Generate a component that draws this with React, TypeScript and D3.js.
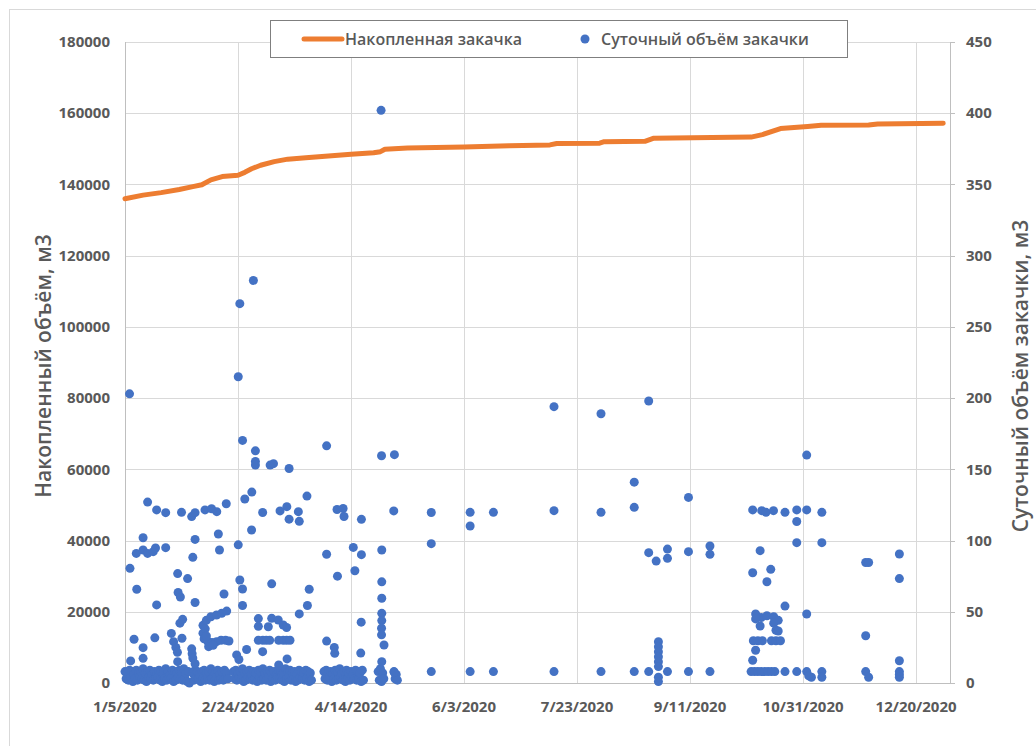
import React from "react";
import * as d3 from "d3";

// ---------- DATA ----------
const startDate = "2020-01-05";
const endDate = "2021-01-04";
const xTickLabels = ["2020-01-05", "2020-02-24", "2020-04-14", "2020-06-03", "2020-07-23", "2020-09-11", "2020-10-31", "2020-12-20"];
const leftTicks = [0, 20000, 40000, 60000, 80000, 100000, 120000, 140000, 160000, 180000];
const rightTicks = [0, 50, 100, 150, 200, 250, 300, 350, 400, 450];

const seriesNames = ["Накопленная закачка", "Суточный объём закачки"];
const leftTitle = "Накопленный объём, м3";
const rightTitle = "Суточный объём закачки, м3";

// cumulative injection: [days since start, m3]
const cumulative: [number, number][] = [
  [0, 136000], [8, 137000], [16, 137700], [24, 138600], [30, 139400], [34, 139900], [38, 141300],
  [43, 142200], [50, 142600], [53, 143400], [56, 144400], [60, 145400], [66, 146400], [72, 147100],
  [80, 147500], [90, 148000], [100, 148500], [110, 148900], [113, 149200], [115, 149900], [125, 150200],
  [150, 150500], [170, 150900], [188, 151100], [191, 151500], [210, 151600], [212, 152000], [230, 152100],
  [234, 153000], [277, 153300], [282, 154000], [290, 155700], [296, 156000], [302, 156300], [308, 156600],
  [329, 156700], [333, 157000], [362, 157200],
];

// daily injection points: [days since start, m3/day]
const dailyPoints: [number, number][] = [
  [2, 203], [10, 127], [14, 121.5], [18, 119.6], [25, 119.8], [29.5, 116.8], [31, 119.6],
  [8, 102], [5, 91], [8, 93.4], [10, 91], [12.5, 92.2], [13.5, 94.8], [18, 95],
  [2.2, 80.5], [5.2, 65.8], [14, 54.8], [23.3, 76.8], [23.5, 63.5], [24.5, 60.4], [27.7, 73.3],
  [31, 100.8], [30, 88.2], [31, 56.5], [4, 30.7], [8, 24.8], [13.2, 31.7], [2.5, 15.5], [8, 17.3],
  [20.5, 34.8], [21.5, 29], [22.5, 25], [23.2, 21.5], [25.2, 31.4], [24.3, 42], [25.5, 44.7], [23.3, 15],
  [29.5, 24], [29.7, 20.5], [30, 17.5], [31, 13.5],
  [34.5, 40.5], [36, 44], [38, 46.5], [40.5, 47.7], [42.8, 49], [45, 50.5], [34.5, 35], [35, 31],
  [36.5, 29.5], [38.5, 28.5], [40.5, 29], [42.5, 30], [44.5, 30], [46, 29.5], [37, 25.5], [39, 26.5],
  [35.5, 38], [36, 33], [43.8, 62.5],
  [35.4, 121.5], [38.3, 122.3], [40.6, 120.3], [44.8, 125.8], [41.3, 104.6], [41.8, 93.4],
  [50.1, 215], [50.8, 266.3], [56.8, 282.6], [52, 170.3], [57.7, 163], [57.7, 155.5], [57.7, 153],
  [64.2, 153], [65.7, 154], [72.6, 150.6],
  [53, 129.2], [56.1, 134], [60.9, 119.7], [68.6, 120.8], [71.6, 123.8], [72.6, 115], [76.7, 120.3],
  [77.1, 113.5], [80.5, 131.2], [56, 107.4], [50.1, 97], [50.8, 72.3], [52, 66], [52, 54.4], [64.9, 69.6],
  [59, 45.2], [59, 39.8], [63.4, 39.5], [64.9, 45.4], [67.8, 44.2], [70, 40.7], [71.5, 39],
  [59, 30], [61, 30], [62.5, 30], [64, 30], [68, 30], [70, 30], [71.5, 30], [73, 30],
  [60.9, 22], [71.7, 16.9], [49.4, 19.7], [50.4, 16.5], [53.8, 23.5], [68, 12.6],
  [81.5, 65.8], [80.7, 54.4], [77.1, 48.5],
  [89.2, 166.5], [93.8, 121.8], [96.5, 122.5], [96.9, 116.9], [104.6, 114.9], [118.9, 120.8], [113.5, 159.5], [119.2, 160.3],
  [89.2, 90.4], [94, 75], [101, 95.2], [104.6, 90.1], [101.7, 78.8],
  [89.2, 29.4], [92.6, 25], [92.8, 20.8], [104.5, 42.7], [104.3, 21],
  [113.6, 93.4], [113.6, 71], [113.6, 59.5], [113.6, 48.9], [113.6, 43.8], [113.5, 38.4], [113.5, 33.8],
  [114.6, 26.7], [113.6, 15], [119.1, 7.5], [113.3, 402],
  [135.5, 119.7], [135.5, 97.8], [135.5, 8],
  [152.7, 119.8], [152.7, 110.2], [152.7, 8],
  [163, 119.8], [163, 8],
  [189.8, 194], [189.8, 121], [189.8, 8],
  [210.6, 189], [210.6, 119.8], [210.6, 8],
  [231.7, 198], [225.3, 141], [225.3, 123.3], [225.3, 8],
  [231.7, 91.5], [235, 85.6], [231.7, 8],
  [236, 29], [236, 25.5], [236, 22], [236, 18.5], [236, 15], [236, 11.5], [236, 4], [236, 1],
  [240, 94], [240, 87.5], [240, 8],
  [249.3, 130.3], [249.3, 92.2], [249.3, 8],
  [258.8, 96.2], [258.8, 90.3], [258.8, 8],
  [277.7, 121.5], [281.7, 121], [283.6, 119.8], [286.9, 121], [292, 119.8], [297.2, 121.5], [301.6, 121.5], [308.3, 119.8],
  [297.2, 113.4], [301.6, 160], [297.2, 98.5], [308.3, 98.5], [281, 92.9], [277.7, 77.4], [285.7, 79.8], [284, 71.1], [292, 54],
  [279, 48.5], [281.5, 46], [284, 47.2], [287, 46.5], [289, 44], [279, 45], [281, 40], [287, 42], [288, 37], [289, 36.5],
  [278, 29.7], [280, 29.7], [282, 29.7], [286, 29.7], [288, 29.7], [290, 29.7], [279, 23], [277.7, 16],
  [301.6, 48.4],
  [277, 8], [278.5, 8], [280, 8], [281.5, 8], [283, 8], [284.5, 8], [286, 8], [287.5, 8], [292, 8],
  [297.2, 8], [301.6, 8], [303.7, 4], [308.3, 8], [308.3, 4], [302.5, 5],
  [327.7, 84.6], [329, 84.6], [327.7, 33.2], [327.7, 8], [329, 4],
  [342.6, 90.6], [342.6, 73.3], [342.6, 15.6], [342.6, 8], [342.6, 6], [342.6, 4],
];

// dense near-zero daily points during Jan-Apr
const baseDays = [
  0, 1, 2, 3, 4, 5, 6, 7, 8, 9, 10, 11, 12, 13, 14, 15, 16, 17, 18, 19, 20, 21, 22, 23, 24, 25, 26, 27, 28,
  30, 31, 32, 33, 34, 35, 36, 37, 38, 39, 40, 41, 42, 43, 44, 45,
  48, 49, 50, 51, 52, 53, 54, 55, 56, 57, 58, 59, 60, 61, 62, 63, 64, 65, 66, 67, 68, 69, 70, 71, 72, 73, 74, 75, 76, 77, 78, 79, 80, 81, 82,
  88, 89, 90, 91, 92, 93, 94, 95, 96, 97, 98, 99, 100, 101, 102, 103, 104, 105,
  112, 113, 114, 119, 120,
];
const baseUpper = [
  8, 7, 9, 8, 6, 9, 7, 8, 10, 7, 8, 9, 6, 8, 7, 9, 8, 7, 10, 8, 6, 9, 8, 7, 9, 8, 10, 7, 8,
  7, 9, 8, 6, 8, 9, 7, 8, 10, 8, 7, 9, 6, 8, 9, 7,
  8, 9, 7, 8, 10, 7, 8, 9, 6, 8, 7, 9, 8, 10, 7, 8, 9, 7, 8, 6, 9, 8, 7, 10, 8, 9, 7, 8, 6, 9, 8, 7, 9, 8, 7,
  8, 9, 7, 8, 6, 9, 8, 10, 7, 8, 9, 7, 8, 6, 9, 8, 7, 9,
  8, 10, 7, 8, 6,
];
const baseLower = [
  3, 2, 4, 1, 3, 2, 4, 3, 2, 1, 4, 3, 2, 3, 4, 2, 1, 3, 2, 4, 3, 1, 2, 4, 3, 2, 3, 1, 0,
  2, 4, 3, 1, 3, 2, 4, 2, 3, 1, 4, 2, 3, 2, 4, 3,
  3, 2, 4, 3, 1, 2, 4, 3, 2, 3, 1, 4, 2, 3, 2, 4, 1, 3, 2, 4, 3, 2, 1, 3, 4, 2, 3, 1, 2, 4, 3, 2, 3, 1, 2,
  3, 2, 4, 1, 3, 2, 3, 4, 2, 1, 3, 2, 4, 3, 2, 3, 1, 2,
  2, 1, 3, 3, 2,
];

// ---------- STYLE ----------
const ORANGE = "#ED7D31";
const BLUE = "#4472C4";
const TEXT = "#595959";
const GRID = "#d9d9d9";
const FONT = "'Open Sans', 'Noto Sans', 'DejaVu Sans', sans-serif";

const W = 1036;
const H = 746;
const PL = 125, PR = 950, PT = 42, PB = 683;

export default function App() {
  const parse = d3.timeParse("%Y-%m-%d");
  const t0 = parse(startDate)!;
  const t1 = parse(endDate)!;
  const dayMs = 86400000;
  const toDate = (d: number) => new Date(t0.getTime() + d * dayMs);

  const x = d3.scaleTime().domain([t0, t1]).range([PL, PR]);
  const yL = d3.scaleLinear().domain([0, 180000]).range([PB, PT]);
  const yR = d3.scaleLinear().domain([0, 450]).range([PB, PT]);
  const fmt = d3.timeFormat("%-m/%-d/%Y");
  const xTicks = xTickLabels.map((s) => parse(s)!);

  const line = d3
    .line<[number, number]>()
    .x((d) => x(toDate(d[0])))
    .y((d) => yL(d[1]));

  const base: [number, number][] = [];
  const n = Math.min(baseDays.length, baseUpper.length, baseLower.length);
  for (let i = 0; i < n; i++) {
    base.push([baseDays[i], baseUpper[i]]);
    base.push([baseDays[i] + 0.5, baseLower[i]]);
  }
  const allPoints = [...base, ...dailyPoints];

  return (
    <div style={{ position: "fixed", left: 0, top: 0, width: W, height: H, background: "#fff" }}>
      <svg width={W} height={H} style={{ display: "block" }} fontFamily={FONT}>
        <rect x={0} y={0} width={W} height={H} fill="#fff" />
        <rect x={9.5} y={9.5} width={W + 20} height={H + 20} fill="none" stroke={GRID} />

        {/* horizontal grid */}
        {leftTicks.map((t) => (
          <line key={"h" + t} x1={PL} x2={PR} y1={Math.round(yL(t)) + 0.5} y2={Math.round(yL(t)) + 0.5} stroke={GRID} strokeWidth={1} />
        ))}
        {/* vertical grid */}
        {xTicks.map((t, i) => (
          <line key={"v" + i} x1={Math.round(x(t)) + 0.5} x2={Math.round(x(t)) + 0.5} y1={PT} y2={PB} stroke={GRID} strokeWidth={1} />
        ))}
        {/* axes */}
        <line x1={PL + 0.5} x2={PL + 0.5} y1={PT} y2={PB} stroke="#bfbfbf" />
        <line x1={PR + 0.5} x2={PR + 0.5} y1={PT} y2={PB} stroke="#bfbfbf" />
        <line x1={PL} x2={PR} y1={PB + 0.5} y2={PB + 0.5} stroke="#bfbfbf" />
        {rightTicks.map((t) => (
          <line key={"rt" + t} x1={PR} x2={PR + 5} y1={Math.round(yR(t)) + 0.5} y2={Math.round(yR(t)) + 0.5} stroke="#bfbfbf" />
        ))}

        {/* left tick labels */}
        {leftTicks.map((t) => (
          <text key={"lt" + t} x={110} y={yL(t)} dy="0.35em" textAnchor="end" fontSize={15} fontWeight={700} fill={TEXT}>
            {t}
          </text>
        ))}
        {/* right tick labels */}
        {rightTicks.map((t) => (
          <text key={"rl" + t} x={966} y={yR(t)} dy="0.35em" textAnchor="start" fontSize={15} fontWeight={700} fill={TEXT}>
            {t}
          </text>
        ))}
        {/* x tick labels */}
        {xTicks.map((t, i) => (
          <text key={"xl" + i} x={x(t)} y={712} textAnchor="middle" fontSize={15} fontWeight={700} fill={TEXT}>
            {fmt(t)}
          </text>
        ))}

        {/* axis titles */}
        <text transform={`translate(51,366) rotate(-90)`} textAnchor="middle" fontSize={21} fontWeight={600} fill={TEXT}>
          {leftTitle}
        </text>
        <text transform={`translate(1028,376) rotate(-90)`} textAnchor="middle" fontSize={21} fontWeight={600} fill={TEXT}>
          {rightTitle}
        </text>

        {/* cumulative line */}
        <path d={line(cumulative) || ""} fill="none" stroke={ORANGE} strokeWidth={5} strokeLinejoin="round" strokeLinecap="round" />

        {/* daily points */}
        {allPoints.map((p, i) => (
          <circle key={"p" + i} cx={x(toDate(p[0]))} cy={yR(p[1])} r={4.5} fill={BLUE} />
        ))}

        {/* legend */}
        <rect x={270.5} y={20.5} width={577} height={37} fill="#fff" stroke="#7f7f7f" />
        <line x1={304} x2={342} y1={39} y2={39} stroke={ORANGE} strokeWidth={5} strokeLinecap="round" />
        <text x={345} y={45} fontSize={16} fontWeight={600} fill={TEXT}>
          {seriesNames[0]}
        </text>
        <circle cx={585} cy={39} r={4.5} fill={BLUE} />
        <text x={601} y={45} fontSize={16} fontWeight={600} fill={TEXT}>
          {seriesNames[1]}
        </text>
      </svg>
    </div>
  );
}
